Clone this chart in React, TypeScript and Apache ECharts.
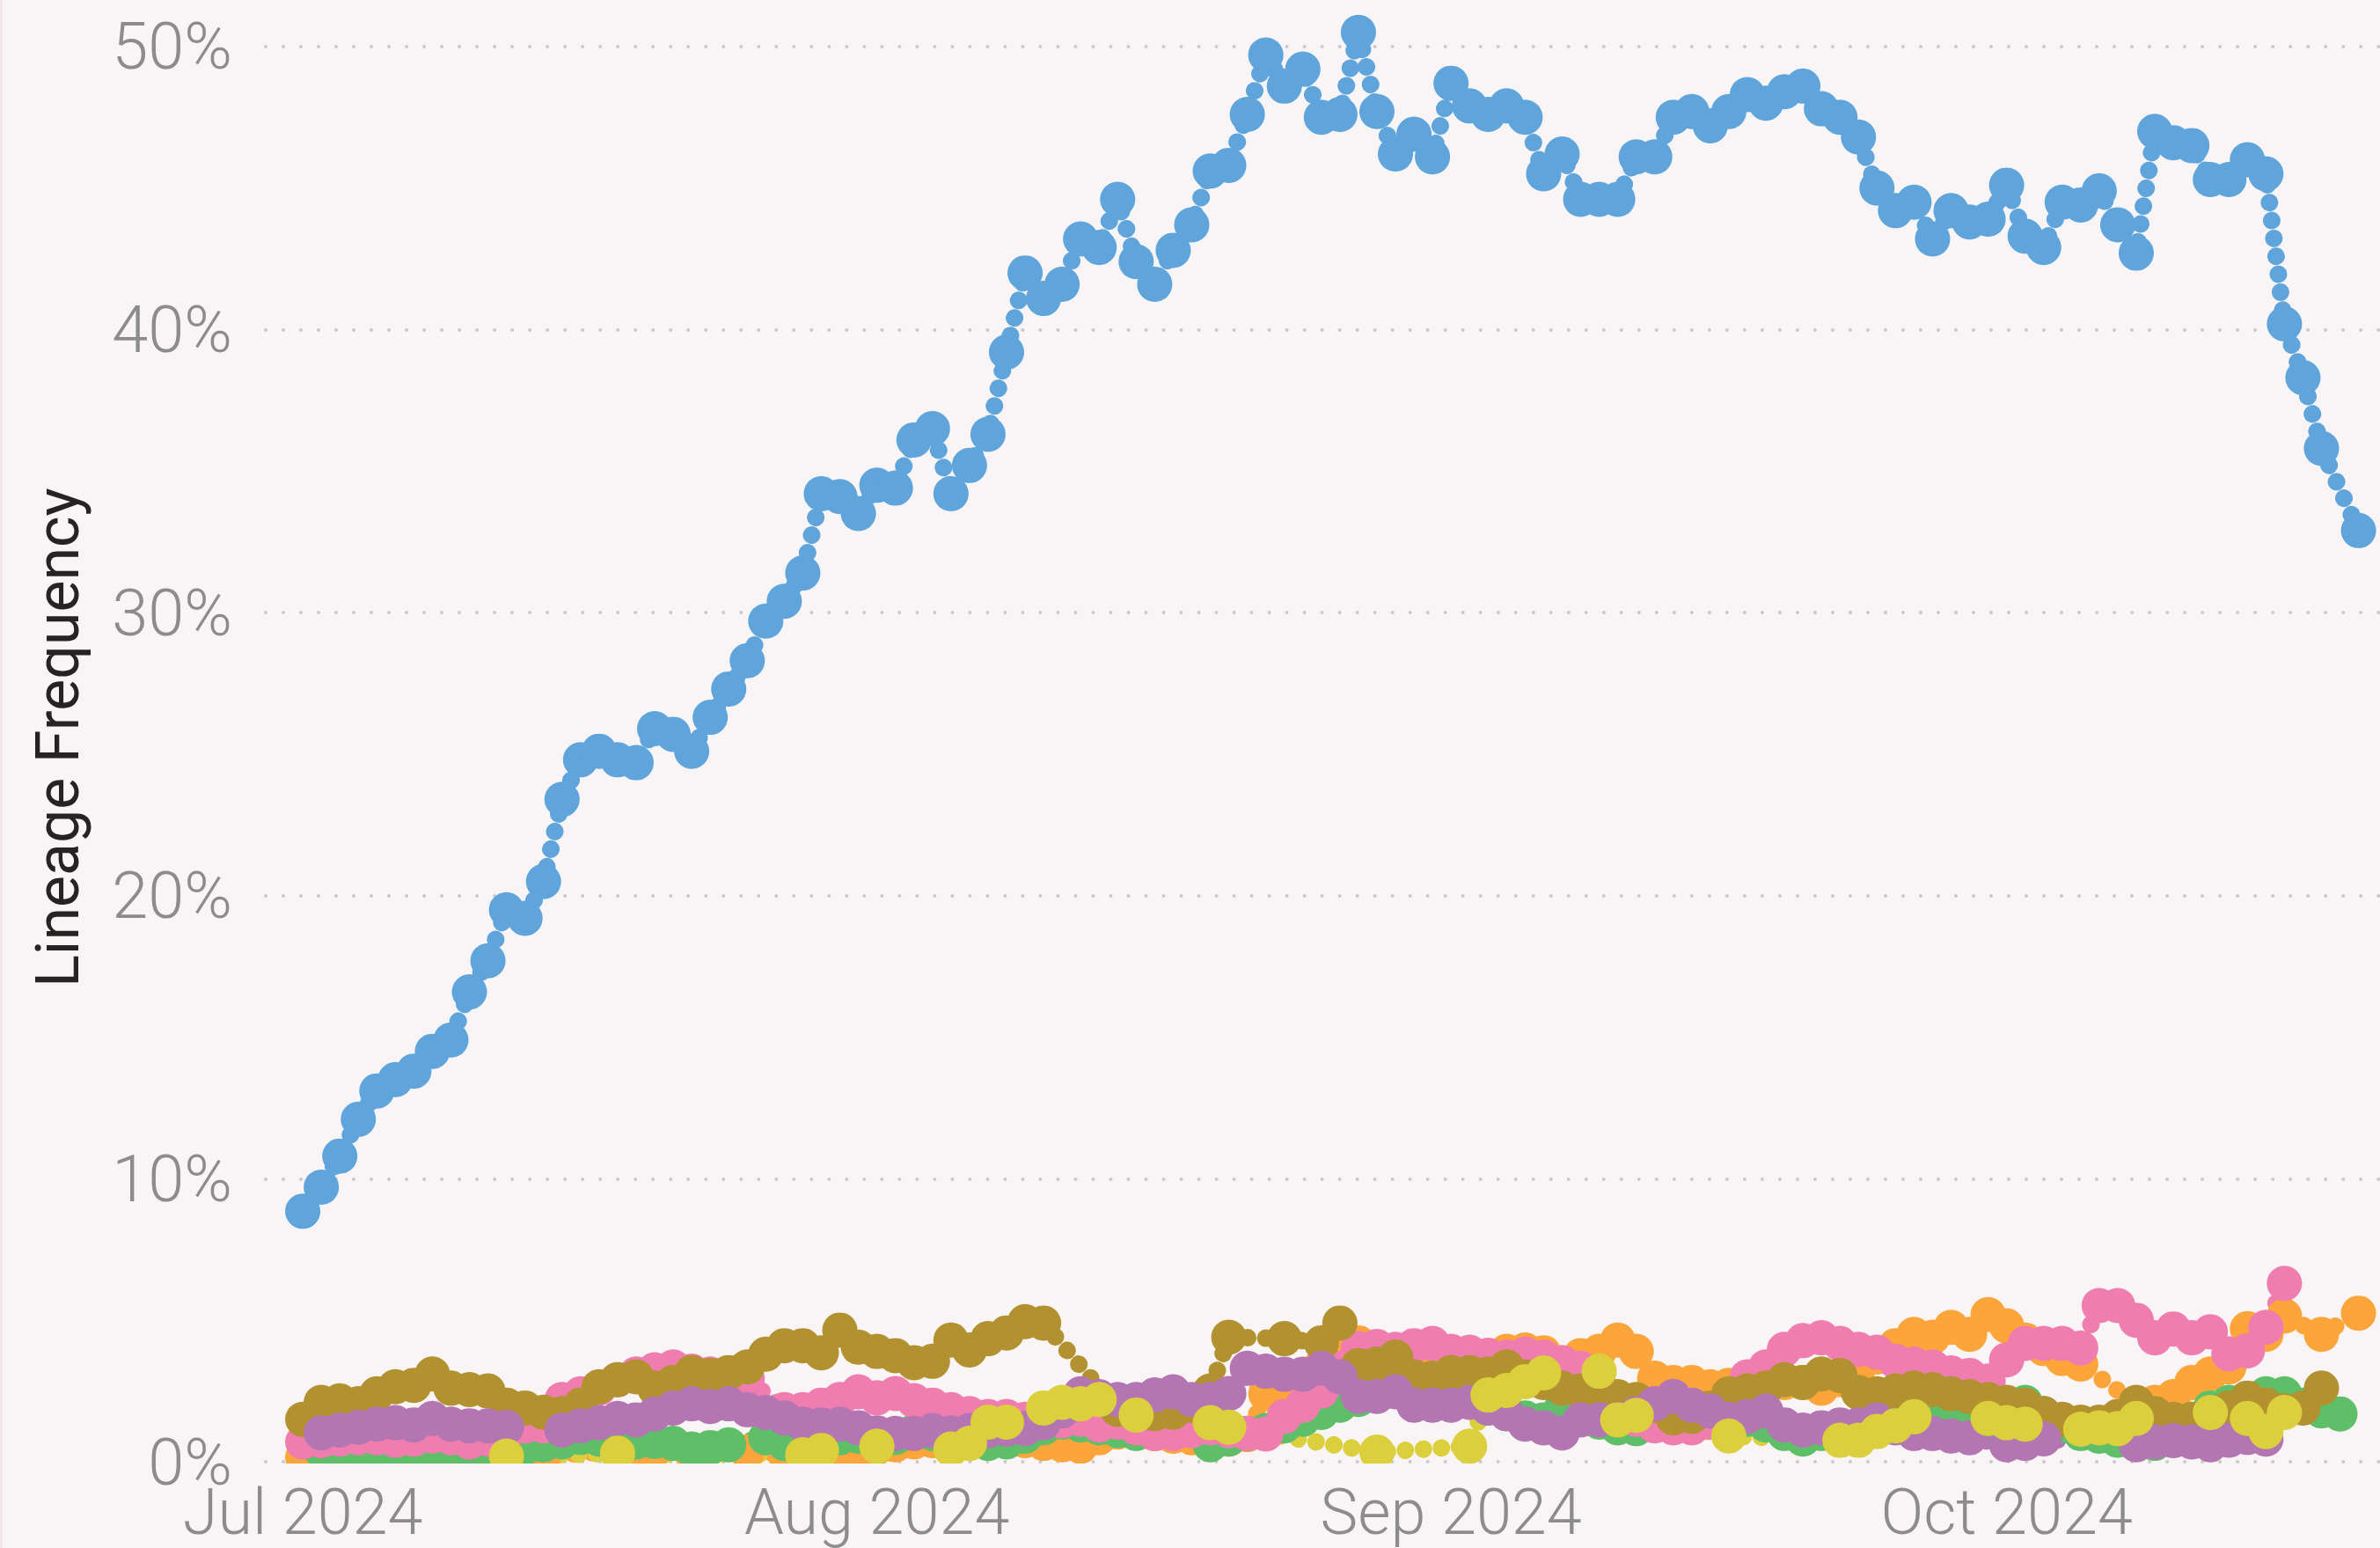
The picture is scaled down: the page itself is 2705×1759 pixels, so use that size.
import React, { useEffect, useRef } from "react";
import * as echarts from "echarts";

const _ = null;

// x positions are day indices counted from this first day
const firstDay = "2024-07-01";
const monthTickDays = [0, 31, 62, 92];
const monthTickLabels = ["Jul 2024", "Aug 2024", "Sep 2024", "Oct 2024"];
const yTickValues = [0, 10, 20, 30, 40, 50];
const yAxisTitle = "Lineage Frequency";

// lineage frequency (%) per day, null = no sample that day
const blueValues = [
  8.85, 9.7, 10.8, 12.1, 13.1, 13.5, 13.8, 14.5, 14.9, 16.6,
  17.7, 19.5, 19.2, 20.5, 23.4, 24.8, 25.1, 24.8, 24.7, 25.9,
  25.7, 25.1, 26.3, 27.3, 28.3, 29.7, 30.4, 31.4, 34.2, 34.1,
  33.5, 34.5, 34.4, 36.1, 36.5, 34.2, 35.2, 36.3, 39.2, 42.0,
  41.1, 41.6, 43.2, 42.9, 44.6, 42.4, 41.6, 42.8, 43.7, 45.6,
  45.8, 47.6, 49.7, 48.6, 49.2, 47.5, 47.6, 50.5, 47.7, 46.2,
  46.9, 46.1, 48.7, 47.9, 47.6, 47.9, 47.5, 45.5, 46.2, 44.6,
  44.6, 44.6, 46.1, 46.1, 47.5, 47.7, 47.2, 47.7, 48.3, 48.0,
  48.4, 48.6, 47.8, 47.5, 46.8, 45.0, 44.2, 44.5, 43.2, 44.2,
  43.8, 43.9, 45.1, 43.3, 42.9, 44.5, 44.4, 44.9, 43.7, 42.7,
  47.0, 46.6, 46.5, 45.3, 45.3, 46.0, 45.5, 40.2, 38.3, 35.8,
  _, 32.9,
];

const orangeValues = [
  0.15, _, _, _, _, _, _, _, 0.2, _,
  _, _, _, 0.2, _, _, _, _, 0.45, 0.4,
  _, 0.3, _, _, 0.35, _, 0.3, _, _, 0.3,
  0.4, 0.5, 0.6, 0.7, 0.75, 0.8, 0.8, 0.85, 0.85, 0.75,
  0.65, 0.6, 0.55, 0.85, 1.05, 1.2, 1.0, 0.9, 0.85, 0.8,
  0.8, 0.96, 2.4, 2.6, 2.9, 3.4, 4.2, 4.2, 3.8, 3.6,
  3.7, 3.8, 3.5, 3.6, 3.7, 3.9, 3.95, 3.85, 3.5, 3.75,
  3.9, 4.3, 3.9, 2.95, 2.8, 2.8, 2.65, 2.7, 2.7, 2.7,
  2.8, 2.8, 2.6, 2.9, 3.3, 3.7, 4.1, 4.5, 4.4, 4.75,
  4.5, 5.2, 4.8, 4.3, 4.0, 3.65, 3.45, _, _, 2.05,
  2.1, 2.3, 2.8, 3.1, 3.35, 4.7, 4.5, 5.15, _, 4.5,
  _, 5.25,
];

const greenValues = [
  _, 0.4, 0.4, 0.35, 0.3, 0.3, 0.3, 0.35, 0.4, 0.4,
  0.5, 0.45, 0.5, 0.6, 0.7, 0.86, 0.8, 0.75, 0.7, 0.72,
  0.65, 0.45, 0.5, 0.6, _, 0.85, 0.65, 0.7, 0.8, 0.85,
  0.9, 0.9, 0.86, 1.07, 1.0, 0.9, 0.7, 0.65, 0.7, 0.9,
  1.2, 1.4, 1.3, 1.2, 1.1, 1.0, 1.07, _, _, 0.6,
  0.8, 1.0, 1.1, 1.27, 1.5, 1.74, 2.0, 2.2, 2.5, 2.8,
  2.7, 2.6, 2.6, 2.2, 1.9, 1.7, 1.55, 1.48, 1.95, 1.6,
  1.4, 1.2, 1.17, 1.3, 1.4, 1.5, 1.6, 1.7, 1.5, 1.3,
  1.0, 0.8, 1.0, 1.1, 1.2, 1.4, 1.5, 1.6, 1.7, 1.5,
  1.27, 1.5, 1.8, 2.1, 1.7, 1.3, 1.0, 0.9, 0.76, 0.7,
  0.65, 1.07, 1.5, 1.9, 2.1, 2.2, 2.4, 2.4, 2.0, 1.8,
  1.69, _,
];

const pinkValues = [
  0.7, 0.75, 0.8, 0.85, 0.85, 0.76, 0.8, 0.91, 0.85, 0.7,
  0.8, 1.0, 1.27, 1.27, 2.2, 2.4, 2.6, 2.9, 3.1, 3.25,
  3.35, 3.2, 3.1, 3.0, 2.93, _, 1.84, 1.84, 2.0, 2.2,
  2.47, 2.26, 2.41, 2.16, 2.0, 1.84, 1.7, 1.6, 1.6, 1.5,
  1.5, 1.45, 1.5, 1.3, 1.4, 1.2, 1.0, 1.0, 1.1, 1.2,
  1.1, 1.0, 0.98, 1.6, 2.0, 2.5, 3.3, 4.0, 4.07, 3.97,
  4.1, 4.18, 3.9, 3.87, 3.76, 3.7, 3.81, 3.7, 3.5, 3.3,
  2.7, 2.0, 1.5, 1.27, 1.2, 1.2, 1.4, 2.3, 3.0, 3.35,
  3.97, 4.28, 4.38, 4.18, 3.97, 3.87, 3.55, 3.45, 3.35, 3.14,
  3.05, 2.85, 3.6, 4.18, 4.18, 4.18, 4.02, 5.52, 5.52, 5.0,
  4.38, 4.69, 4.38, 4.59, 3.81, 3.92, 4.75, 6.3, _, _,
  _, _,
];

const oliveValues = [
  1.5, 2.1, 2.15, 2.05, 2.4, 2.65, 2.7, 3.1, 2.6, 2.55,
  2.5, 2.0, 1.9, 1.75, 1.7, 2.0, 2.65, 2.9, 3.0, 2.6,
  2.8, 3.15, 3.05, 3.15, 3.35, 3.8, 4.1, 4.1, 3.85, 4.65,
  4.05, 3.9, 3.75, 3.5, 3.55, 4.3, 3.95, 4.35, 4.55, 4.95,
  4.9, _, _, _, 1.85, 1.7, 1.7, 1.75, 2.0, 2.5,
  4.4, _, _, 4.35, _, 4.2, 4.9, 3.4, 3.45, 3.7,
  3.0, 2.95, 3.15, 3.15, 3.1, 3.35, 3.0, 2.8, 2.6, 2.5,
  2.3, 2.3, 2.2, 2.0, 1.55, 1.6, 1.9, 2.4, 2.5, 2.6,
  2.9, 2.8, 3.1, 3.05, 2.45, 2.4, 2.5, 2.6, 2.55, 2.4,
  2.3, 2.2, 2.1, 2.0, 1.7, 1.5, 1.4, 1.4, 1.6, 2.1,
  1.7, 1.5, 1.5, 1.7, 1.9, 2.25, 2.0, 1.8, 1.9, 2.6,
  _, _,
];

const purpleValues = [
  _, 1.02, 1.12, 1.22, 1.33, 1.38, 1.3, 1.53, 1.33, 1.27,
  1.27, 1.22, _, _, 1.12, 1.27, 1.38, 1.53, 1.48, 1.69,
  1.9, 2.05, 1.95, 2.05, 1.84, 1.74, 1.55, 1.33, 1.3, 1.33,
  1.2, 1.02, 1.0, 1.0, 1.1, 1.02, 1.1, 1.1, 1.15, 1.17,
  1.38, 1.8, 2.4, 2.3, 2.2, 2.2, 2.36, 2.47, 2.2, 2.2,
  2.41, 3.3, 3.2, 3.09, 3.09, 3.3, 3.0, 2.31, 2.31, 2.47,
  2.0, 2.0, 2.0, 2.1, 1.9, 1.7, 1.33, 1.2, 1.02, 1.48,
  1.48, 1.5, 1.7, 2.05, 2.31, 2.0, 1.79, 1.5, 1.6, 1.79,
  1.3, 1.12, 1.2, 1.3, 1.3, 1.48, 1.2, 1.0, 1.0, 0.91,
  0.85, _, 0.6, 0.65, 0.81, _, _, _, _, 0.6,
  0.7, 0.75, 0.7, 0.6, 0.76, 0.86, 0.8, _, _, _,
  _, _,
];

const yellowValues = [
  _, _, _, _, _, _, _, _, _, _,
  _, 0.2, _, _, _, _, _, 0.3, _, _,
  _, _, _, _, _, _, _, 0.25, 0.4, _,
  _, 0.55, _, _, _, 0.45, 0.65, 1.4, 1.4, _,
  1.9, 2.1, 2.05, 2.2, _, 1.65, _, _, _, 1.38,
  1.22, _, _, _, _, _, _, _, 0.34, _,
  _, _, _, 0.55, 2.36, 2.52, 2.83, 3.14, _, _,
  3.2, 1.48, 1.64, _, _, _, _, 0.91, _, _,
  _, _, _, 0.76, 0.76, 1.07, 1.27, 1.59, _, _,
  _, 1.53, 1.38, 1.33, _, _, 1.15, 1.2, 1.17, 1.53,
  _, _, _, 1.74, _, 1.53, 1.07, 1.74, _, _,
  _, _,
];

const lineages = [
  { name: "Lineage orange", color: "#fba53a", values: orangeValues },
  { name: "Lineage green", color: "#5fbf69", values: greenValues },
  { name: "Lineage pink", color: "#f07daf", values: pinkValues },
  { name: "Lineage olive", color: "#b29130", values: oliveValues },
  { name: "Lineage purple", color: "#b376b2", values: purpleValues },
  { name: "Lineage yellow", color: "#dccf3d", values: yellowValues },
  { name: "Lineage blue", color: "#5fa5db", values: blueValues },
];

const BG = "#f9f5f6";
const LABEL_GRAY = "#8c8c8c";

function toPoints(values: (number | null)[]) {
  const pts: [number, number][] = [];
  values.forEach((v, i) => {
    if (v !== null && v !== undefined) pts.push([i, v]);
  });
  return pts;
}

export default function App() {
  const ref = useRef<HTMLDivElement>(null);

  useEffect(() => {
    document.body.style.margin = "0";
    document.body.style.background = BG;
    document.body.style.overflow = "hidden";
    const chart = echarts.init(ref.current!, null, { renderer: "svg" });

    const option: any = {
      animation: false,
      backgroundColor: BG,
      grid: {
        left: 302,
        right: 0,
        top: -108,
        bottom: 98,
        containLabel: false,
        outerBoundsMode: "none",
      },
      xAxis: {
        type: "value",
        min: -2,
        max: 112.16,
        z: 60,
        axisLine: { show: false },
        axisTick: { show: false },
        splitLine: { show: false },
        axisLabel: {
          customValues: monthTickDays,
          formatter: (v: number) => {
            const i = monthTickDays.indexOf(Math.round(v));
            return i >= 0 ? monthTickLabels[i] : "";
          },
          fontSize: 72,
          fontFamily: "Roboto",
          fontWeight: 300,
          color: LABEL_GRAY,
          margin: 21,
        },
      },
      yAxis: {
        type: "value",
        min: 0,
        max: 55,
        interval: 10,
        axisLine: { show: false },
        axisTick: { show: false },
        splitLine: {
          show: true,
          lineStyle: { color: "#c9c9c9", width: 4, type: [0.01, 20], cap: "round" },
        },
        axisLabel: {
          formatter: (v: number) => (yTickValues.indexOf(v) >= 0 ? `${v}%` : ""),
          fontSize: 74,
          fontFamily: "Roboto",
          fontWeight: 300,
          color: LABEL_GRAY,
          margin: 38,
        },
      },
      graphic: [
        {
          type: "rect",
          z: 50,
          silent: true,
          shape: { x: 302, y: 1663, width: 2403, height: 96 },
          style: { fill: BG },
        },
        {
          type: "rect",
          z: 50,
          silent: true,
          shape: { x: 0, y: 0, width: 3, height: 1759 },
          style: { fill: "#f3e7eb" },
        },
        {
          type: "text",
          z: 70,
          x: 66,
          y: 838,
          rotation: Math.PI / 2,
          silent: true,
          style: {
            text: yAxisTitle,
            fontSize: 68,
            fontFamily: "Roboto",
            fill: "#252423",
            align: "center",
            verticalAlign: "middle",
          },
        },
      ],
      series: lineages.map((l) => ({
        type: "line",
        name: l.name,
        data: toPoints(l.values),
        symbol: "circle",
        symbolSize: 40,
        showAllSymbol: true,
        clip: true,
        silent: true,
        itemStyle: { color: l.color },
        lineStyle: { color: l.color, width: 20, type: [0.01, 20.5], cap: "round" },
        emphasis: { disabled: true },
      })),
    };

    chart.setOption(option);
    return () => chart.dispose();
  }, []);

  return <div ref={ref} style={{ width: 2705, height: 1759 }} />;
}
